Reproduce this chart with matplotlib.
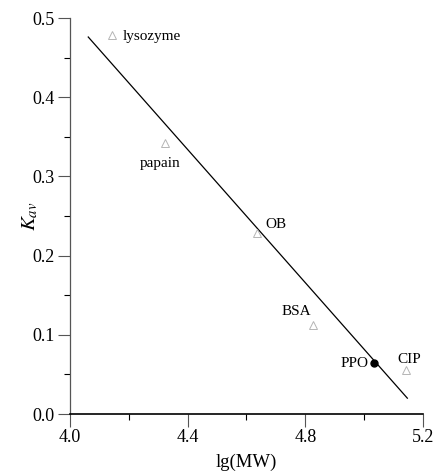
import matplotlib.pyplot as plt
from matplotlib.ticker import MultipleLocator

plt.rcParams['font.family'] = ['Liberation Serif', 'DejaVu Serif']
plt.rcParams['mathtext.fontset'] = 'stix'

# proteinas patron (lg MW, Kav)
proteinas = ['lysozyme', 'papain', 'OB', 'BSA', 'CIP']
lg_mw = [4.142, 4.323, 4.635, 4.827, 5.144]
kav = [0.479, 0.342, 0.228, 0.112, 0.055]

# muestra PPO
ppo_lg = 5.033
ppo_kav = 0.064

# recta de calibracion (extremos)
recta_x = [4.062, 5.147]
recta_y = [0.476, 0.020]

# desplazamiento de las etiquetas (pt) y alineacion
etiq_off = [(8, -1.5), (-3.6, -14.4), (6, 6.5), (-12, 9.6), (2, 8)]
etiq_ha = ['left', 'center', 'left', 'center', 'center']

fig = plt.figure(figsize=(4.36, 4.75), dpi=100)
ax = fig.add_axes([0.1606, 0.1284, 0.8094, 0.8337])

ax.plot(recta_x, recta_y, color='black', lw=0.9)
ax.plot(lg_mw, kav, ls='none', marker='^', ms=6, mfc='none',
        mec='#b5b5b5', mew=0.7)
ax.plot([ppo_lg], [ppo_kav], ls='none', marker='o', ms=5, color='black')

for nombre, x, y, off, ha in zip(proteinas, lg_mw, kav, etiq_off, etiq_ha):
    ax.annotate(nombre, (x, y), xytext=off, textcoords='offset points',
                ha=ha, va='center', fontsize=11)
ax.annotate('PPO', (ppo_lg, ppo_kav), xytext=(-4, 0),
            textcoords='offset points', ha='right', va='center', fontsize=11)

ax.set_xlim(4.0, 5.2)
ax.set_ylim(0.0, 0.5)
ax.xaxis.set_major_locator(MultipleLocator(0.4))
ax.xaxis.set_minor_locator(MultipleLocator(0.2))
ax.yaxis.set_major_locator(MultipleLocator(0.1))
ax.yaxis.set_minor_locator(MultipleLocator(0.05))
ax.xaxis.set_major_formatter(plt.FormatStrFormatter('%.1f'))
ax.yaxis.set_major_formatter(plt.FormatStrFormatter('%.1f'))

for lado in ['top', 'right']:
    ax.spines[lado].set_visible(False)
ax.spines['left'].set_linewidth(0.9)
ax.spines['bottom'].set_linewidth(1.2)
ax.spines['left'].set_color('#555555')

ax.tick_params(which='major', direction='out', length=9, width=0.8,
               labelsize=13, pad=2)
ax.tick_params(which='minor', direction='out', length=4.5, width=0.8)
ax.tick_params(axis='y', colors='#555555', labelcolor='black')
ax.tick_params(axis='x', colors='#555555', labelcolor='black')

ax.set_xlabel('lg(MW)', fontsize=13.5, labelpad=5)
ax.set_ylabel('$K_{av}$', fontsize=15)
ax.yaxis.set_label_coords(-0.085, 0.5)

fig.savefig('out.png', dpi=100)
